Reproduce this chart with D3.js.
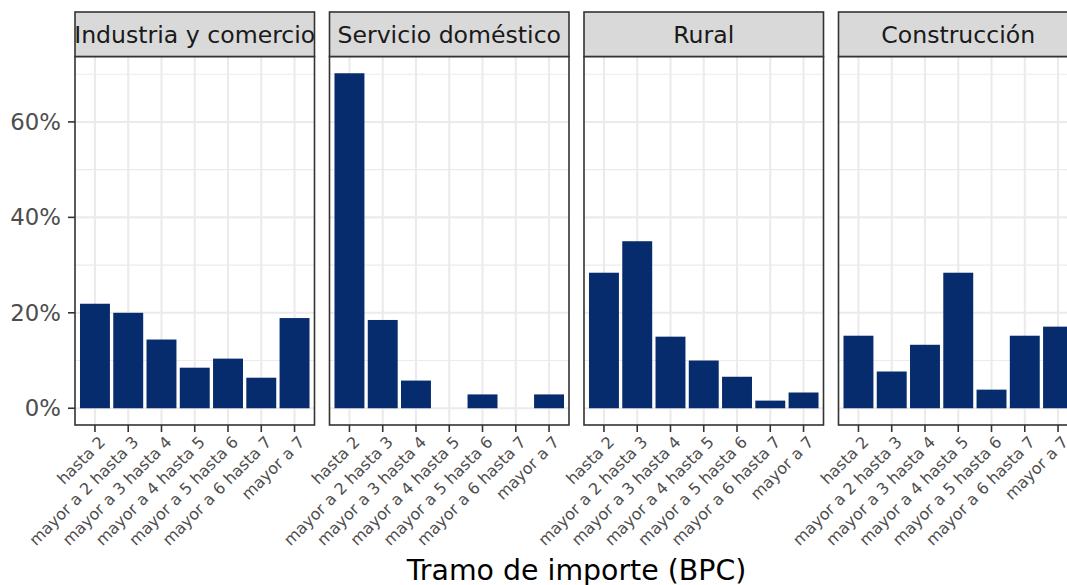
<!DOCTYPE html>
<html>
<head>
<meta charset="utf-8">
<script src="https://cdn.jsdelivr.net/npm/d3@7"></script>
<style>
  body { margin: 0; background: #fff; }
  svg { display: block; font-family: "DejaVu Sans", sans-serif; }
</style>
</head>
<body>
<div id="chart"></div>
<script>
/// data (share of each sector, %)
var tramos = ["hasta 2", "mayor a 2 hasta 3", "mayor a 3 hasta 4", "mayor a 4 hasta 5",
              "mayor a 5 hasta 6", "mayor a 6 hasta 7", "mayor a 7"];
var sectores = ["Industria y comercio", "Servicio doméstico", "Rural", "Construcción"];

var industria    = [21.9, 20.0, 14.4, 8.5, 10.4, 6.4, 18.9];
var domestico    = [70.2, 18.5, 5.8, 0, 2.9, 0, 2.9];
var rural        = [28.4, 35.0, 15.0, 10.0, 6.6, 1.6, 3.3];
var construccion = [15.2, 7.7, 13.3, 28.4, 3.9, 15.2, 17.1];

var yTicks = [0, 20, 40, 60];
var yMinor = [10, 30, 50, 70];

var series = [industria, domestico, rural, construccion];

///layout
var width = 1067, height = 585;
var panelLeft = 75, panelW = 239.5, panelGap = 15;
var stripTop = 12, panelTop = 56.5, panelBottom = 425;

var svg = d3.select('#chart').append('svg')
    .attr('width', width)
    .attr('height', height);

var maxVal = d3.max(series, s => d3.max(s));
var y = d3.scaleLinear()
    .domain([-maxVal * 0.05, maxVal * 1.05])
    .range([panelBottom, panelTop]);

var barColor = '#072c6d';

sectores.forEach(function (name, i) {
    var x0 = panelLeft + i * (panelW + panelGap);
    var x = d3.scalePoint().domain(tramos).range([x0, x0 + panelW]).padding(0.6);
    var bw = x.step() * 0.9;

    var g = svg.append('g').attr('class', 'panel');

    g.append('rect')
        .attr('x', x0).attr('y', panelTop)
        .attr('width', panelW).attr('height', panelBottom - panelTop)
        .attr('fill', '#fff');

    // minor + major grid
    g.selectAll('line.minor').data(yMinor).enter().append('line')
        .attr('x1', x0).attr('x2', x0 + panelW)
        .attr('y1', d => y(d)).attr('y2', d => y(d))
        .attr('stroke', '#ebebeb').attr('stroke-width', 1.1);
    g.selectAll('line.major').data(yTicks).enter().append('line')
        .attr('x1', x0).attr('x2', x0 + panelW)
        .attr('y1', d => y(d)).attr('y2', d => y(d))
        .attr('stroke', '#ebebeb').attr('stroke-width', 2.1);
    g.selectAll('line.vmajor').data(tramos).enter().append('line')
        .attr('x1', d => x(d)).attr('x2', d => x(d))
        .attr('y1', panelTop).attr('y2', panelBottom)
        .attr('stroke', '#ebebeb').attr('stroke-width', 2.1);

    // bars
    g.selectAll('rect.bar').data(series[i]).enter().append('rect')
        .attr('class', 'bar')
        .attr('x', (d, j) => x(tramos[j]) - bw / 2)
        .attr('width', bw)
        .attr('y', d => y(Math.max(0, d)))
        .attr('height', d => Math.abs(y(d) - y(0)))
        .attr('fill', barColor);

    // border
    g.append('rect')
        .attr('x', x0).attr('y', panelTop)
        .attr('width', panelW).attr('height', panelBottom - panelTop)
        .attr('fill', 'none').attr('stroke', '#333').attr('stroke-width', 1.6);

    // strip
    var clipId = 'strip' + i;
    svg.append('clipPath').attr('id', clipId).append('rect')
        .attr('x', x0).attr('y', stripTop)
        .attr('width', panelW).attr('height', panelTop - stripTop);
    g.append('rect')
        .attr('x', x0).attr('y', stripTop)
        .attr('width', panelW).attr('height', panelTop - stripTop)
        .attr('fill', '#d9d9d9').attr('stroke', '#333').attr('stroke-width', 1.6);
    g.append('text')
        .attr('clip-path', 'url(#' + clipId + ')')
        .attr('x', x0 + panelW / 2).attr('y', (stripTop + panelTop) / 2)
        .attr('dy', '0.35em')
        .attr('text-anchor', 'middle')
        .attr('font-size', 23.6)
        .attr('fill', '#1a1a1a')
        .text(name);

    // x axis
    g.selectAll('line.xtick').data(tramos).enter().append('line')
        .attr('x1', d => x(d)).attr('x2', d => x(d))
        .attr('y1', panelBottom).attr('y2', panelBottom + 7)
        .attr('stroke', '#333').attr('stroke-width', 1.6);
    g.selectAll('text.xlab').data(tramos).enter().append('text')
        .attr('transform', d => 'translate(' + (x(d) + 3) + ',' + (panelBottom + 10) + ') rotate(-45)')
        .attr('text-anchor', 'end')
        .attr('dy', '0.72em')
        .attr('font-size', 16)
        .attr('fill', '#4d4d4d')
        .text(d => d);

    // y axis on first panel only
    if (i === 0) {
        g.selectAll('line.ytick').data(yTicks).enter().append('line')
            .attr('x1', x0 - 7).attr('x2', x0)
            .attr('y1', d => y(d)).attr('y2', d => y(d))
            .attr('stroke', '#333').attr('stroke-width', 1.6);
        g.selectAll('text.ylab').data(yTicks).enter().append('text')
            .attr('x', x0 - 14).attr('y', d => y(d))
            .attr('dy', '0.35em')
            .attr('text-anchor', 'end')
            .attr('font-size', 22.8)
            .attr('fill', '#4d4d4d')
            .text(d => d + '%');
    }
});

///axis title
var plotRight = panelLeft + 4 * panelW + 3 * panelGap;
svg.append('text')
    .attr('x', (panelLeft + plotRight) / 2)
    .attr('y', 580)
    .attr('text-anchor', 'middle')
    .attr('font-size', 28.4)
    .attr('fill', '#000')
    .text('Tramo de importe (BPC)');
</script>
</body>
</html>
